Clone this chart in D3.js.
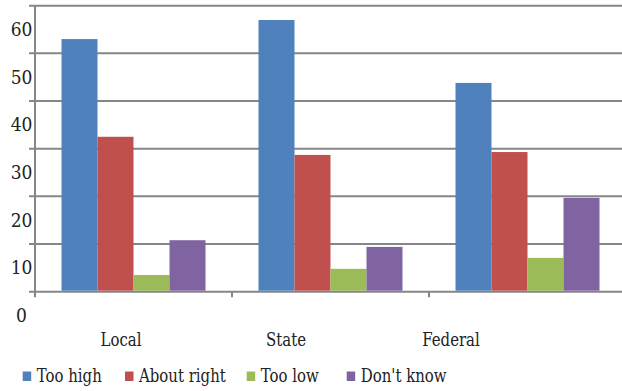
<!DOCTYPE html>
<html>
<head>
<meta charset="utf-8">
<script src="https://cdn.jsdelivr.net/npm/d3@7"></script>
<style>
  html, body { margin: 0; padding: 0; background: #fff; }
  svg { display: block; }
</style>
</head>
<body>
<svg id="chart" width="622" height="391"></svg>
<script>
const categories = ["Local", "State", "Federal"];
const series = ["Too high", "About right", "Too low", "Don't know"];
const tooHigh = [53.0, 57.0, 43.8];
const aboutRight = [32.5, 28.7, 29.3];
const tooLow = [3.5, 4.8, 7.1];
const dontKnow = [10.8, 9.4, 19.7];
const colors = ["#4f81bd", "#c0504d", "#9bbb59", "#8064a2"];
const yTicks = [0, 10, 20, 30, 40, 50, 60];

const values = [tooHigh, aboutRight, tooLow, dontKnow];
const svg = d3.select("#chart");
const grid = "#868686";
const FONT = "'DejaVu Serif', 'Liberation Serif', serif";
const SQUEEZE = 0.83;

const y = d3.scaleLinear().domain([0, 60]).range([291.7, 5.7]);
const x0 = d3.scaleBand().domain(categories).range([35, 626])
  .paddingInner(53 / 197).paddingOuter(26.5 / 197);
const x1 = d3.scaleBand().domain(series).range([0, x0.bandwidth()]);
const xLabel = d3.scaleBand().domain(categories).range([38.5, 533.5]);

// gridlines
svg.append("g").selectAll("line").data(yTicks).join("line")
  .attr("x1", 29).attr("x2", 622)
  .attr("y1", d => y(d)).attr("y2", d => y(d))
  .attr("stroke", grid).attr("stroke-width", 2);

// y axis line
svg.append("line").attr("x1", 35).attr("x2", 35)
  .attr("y1", y(60)).attr("y2", y(0) + 5.5)
  .attr("stroke", grid).attr("stroke-width", 2);

// category tick marks
svg.append("g").selectAll("line").data(categories.slice(1)).join("line")
  .attr("x1", d => x0(d) - x0.step() * x0.paddingInner() / 2)
  .attr("x2", d => x0(d) - x0.step() * x0.paddingInner() / 2)
  .attr("y1", y(0)).attr("y2", y(0) + 5.5)
  .attr("stroke", grid).attr("stroke-width", 2);

// bars
const groups = svg.append("g").selectAll("g").data(categories).join("g")
  .attr("transform", d => `translate(${x0(d)},0)`);
groups.selectAll("rect")
  .data((d, i) => series.map((s, j) => ({ s, j, v: values[j][i] })))
  .join("rect")
  .attr("x", d => x1(d.s))
  .attr("width", x1.bandwidth())
  .attr("y", d => y(d.v))
  .attr("height", d => y(0) - y(d.v) - 1)
  .attr("fill", d => colors[d.j]);

// y labels (offset half a step below their gridline, as in the original)
svg.append("g").selectAll("text").data(yTicks).join("text")
  .attr("transform", d => `translate(21.5,${y(d - 5)}) scale(0.95,1)`)
  .attr("dy", "0.36em")
  .attr("text-anchor", "middle")
  .style("font-family", FONT)
  .style("font-size", "18px")
  .attr("fill", "#222")
  .text(d => d);

// category labels
svg.append("g").selectAll("text").data(categories).join("text")
  .attr("transform", d => `translate(${xLabel(d) + xLabel.bandwidth() / 2},346) scale(${SQUEEZE},1)`)
  .attr("text-anchor", "middle")
  .style("font-family", FONT)
  .style("font-size", "18px")
  .attr("fill", "#222")
  .text(d => d);

// legend
const legendX = [22.7, 125, 246.7, 346.7];
const lg = svg.append("g").selectAll("g").data(series).join("g")
  .attr("transform", (d, i) => `translate(${legendX[i]},0)`);
lg.append("rect").attr("x", 0).attr("y", 371.5).attr("width", 8.5).attr("height", 9.5)
  .attr("fill", (d, i) => colors[i]);
lg.append("text")
  .attr("transform", `translate(14,382) scale(${SQUEEZE},1)`)
  .style("font-family", FONT)
  .style("font-size", "18px")
  .attr("fill", "#222")
  .text(d => d);
</script>
</body>
</html>
